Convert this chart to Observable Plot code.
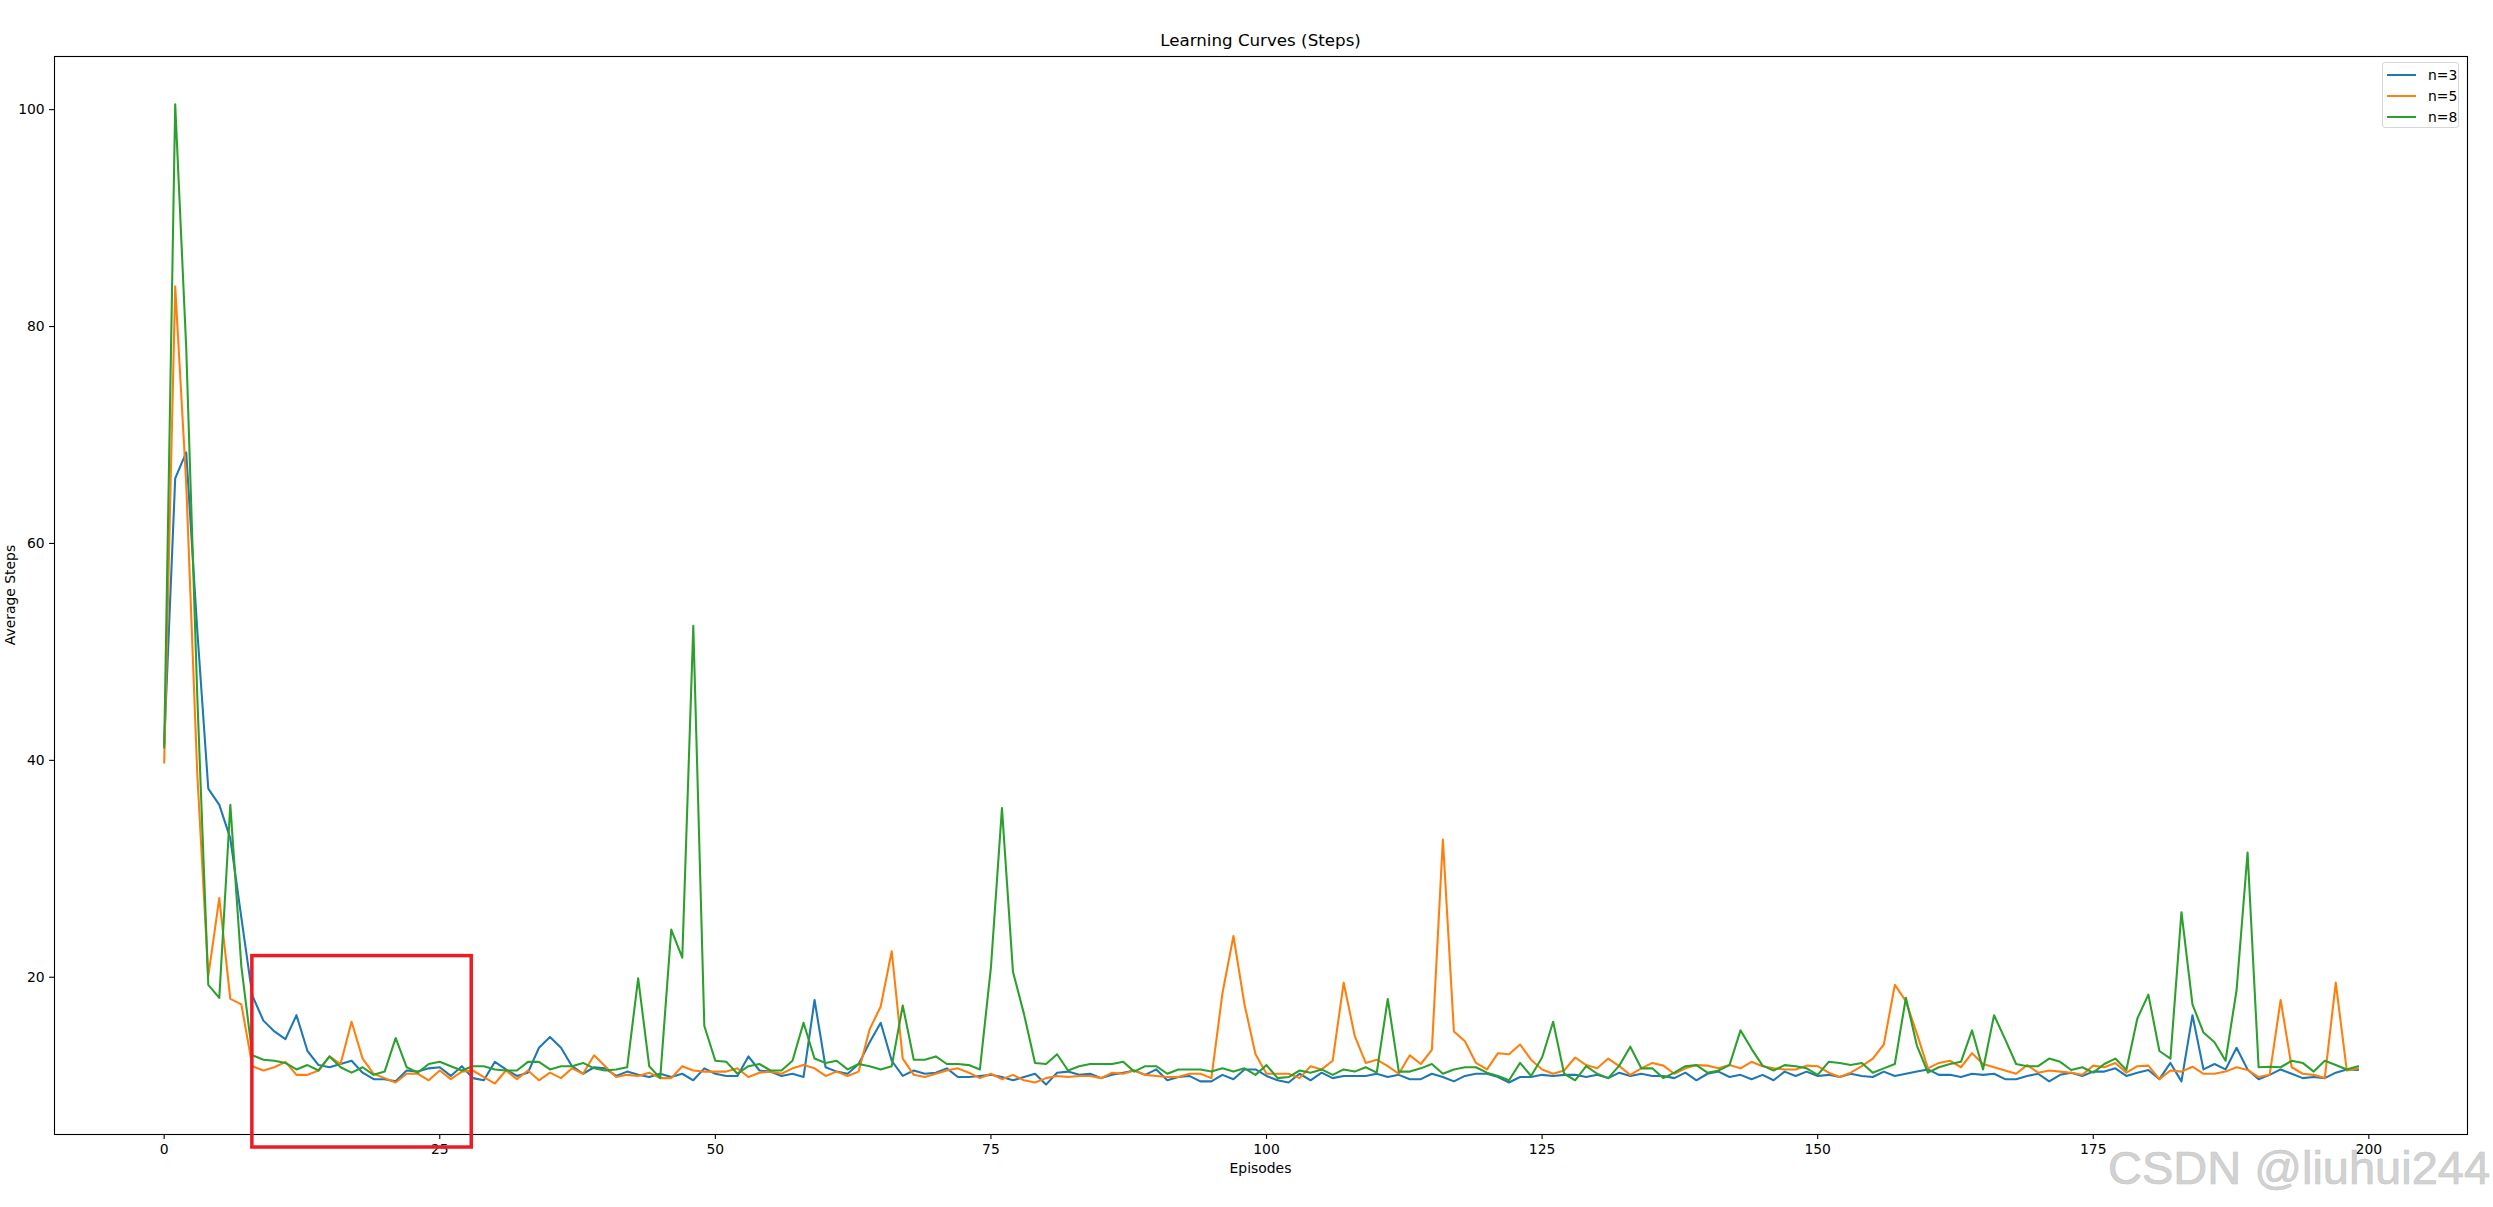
<!DOCTYPE html>
<html>
<head>
<meta charset="utf-8">
<script src="https://cdn.jsdelivr.net/npm/d3@7"></script>
<script src="https://cdn.jsdelivr.net/npm/@observablehq/plot@0.6"></script>
<style>
  html, body { margin: 0; padding: 0; background: #ffffff; }
  #wrap { position: relative; width: 2493px; height: 1207px; overflow: hidden; font-family: "DejaVu Sans", sans-serif; color: #000; }
  #wrap svg { position: absolute; left: 0; top: 0; }
  .title { position: absolute; left: 54px; width: 2413px; top: 30px; text-align: center; font-size: 16.7px; line-height: 20px; }
  .xlabel { position: absolute; left: 54px; width: 2413px; top: 1160px; text-align: center; font-size: 13.9px; line-height: 17px; }
  .ylabel { position: absolute; left: 9.5px; top: 595px; font-size: 13.9px; line-height: 17px; white-space: nowrap; transform: translate(-50%, -50%) rotate(-90deg); }
  .legend { position: absolute; left: 2382px; top: 62px; width: 77px; height: 66px; border: 1px solid #d6d6d6; border-radius: 3px; background: rgba(255,255,255,0.8); box-sizing: border-box; }
  .legend .item { position: absolute; left: 4px; height: 17px; font-size: 13.9px; line-height: 17px; white-space: nowrap; }
  .legend .sw { position: absolute; left: 0; top: 7px; width: 29px; height: 2.1px; }
  .legend .lab { position: absolute; left: 41px; top: 0; }
  .watermark { position: absolute; left: 2108px; top: 1153px; font-family: "Liberation Sans", Arial, sans-serif; font-size: 47px; line-height: 30px; height: 30px; color: #d2d2d2; white-space: nowrap; -webkit-text-stroke: 0.6px #c4c4c4; }
</style>
</head>
<body>
<div id="wrap"></div>
<script>
// ---- data ----
const seriesNames = ["n=3", "n=5", "n=8"];
const seriesColors = ["#1f77b4", "#ff7f0e", "#2ca02c"];
const xTicks = [0, 25, 50, 75, 100, 125, 150, 175, 200];
const yTicks = [20, 40, 60, 80, 100];

const stepsN3 = [
  41.5, 66.0, 68.4, 52.0, 37.4, 35.9, 32.8, 25.5, 18.3, 16.0,
  15.0, 14.3, 16.5, 13.2, 11.9, 11.7, 12.0, 12.3, 11.2, 10.6,
  10.6, 10.4, 11.4, 11.3, 11.6, 11.7, 10.9, 11.8, 10.7, 10.5,
  12.2, 11.5, 10.9, 11.2, 13.5, 14.5, 13.5, 11.8, 11.1, 11.7,
  11.6, 10.9, 11.3, 11.0, 10.8, 11.1, 10.8, 11.1, 10.5, 11.6,
  11.1, 10.9, 10.9, 12.7, 11.4, 11.3, 10.9, 11.1, 10.8, 17.9,
  11.7, 11.3, 11.1, 12.0, 14.0, 15.8, 12.3, 10.9, 11.4, 11.1,
  11.2, 11.6, 10.8, 10.8, 10.9, 11.0, 10.8, 10.5, 10.8, 11.1,
  10.1, 11.2, 11.3, 11.0, 11.1, 10.7, 11.0, 11.2, 11.4, 11.0,
  11.5, 10.5, 10.8, 10.9, 10.4, 10.4, 11.0, 10.6, 11.5, 11.5,
  10.9, 10.5, 10.3, 11.1, 10.5, 11.2, 10.7, 10.9, 10.9, 10.9,
  11.1, 10.8, 11.0, 10.6, 10.6, 11.1, 10.8, 10.4, 10.9, 11.1,
  11.1, 10.8, 10.3, 10.8, 10.8, 11.0, 10.9, 11.0, 11.0, 10.8,
  11.0, 10.7, 11.2, 10.9, 11.1, 10.9, 10.9, 10.7, 11.2, 10.5,
  11.1, 11.3, 10.8, 11.0, 10.6, 11.0, 10.5, 11.3, 10.9, 11.3,
  10.9, 11.0, 10.8, 11.1, 10.9, 10.8, 11.3, 10.9, 11.1, 11.3,
  11.5, 11.0, 11.0, 10.8, 11.1, 11.0, 11.1, 10.6, 10.6, 10.9,
  11.1, 10.4, 11.0, 11.2, 10.9, 11.3, 11.3, 11.6, 10.9, 11.2,
  11.45, 10.6, 12.1, 10.4, 16.5, 11.5, 12.0, 11.5, 13.5, 11.5,
  10.6, 11.0, 11.5, 11.1, 10.7, 10.8, 10.7, 11.2, 11.5, 11.45
];

const stepsN5 = [
  39.8, 83.7, 65.5, 38.8, 20.1, 27.3, 18.0, 17.5, 11.8, 11.4,
  11.7, 12.2, 11.0, 11.0, 11.4, 12.7, 12.0, 15.9, 12.5, 11.1,
  10.7, 10.3, 11.1, 11.1, 10.5, 11.4, 10.6, 11.3, 11.4, 10.8,
  10.2, 11.4, 10.6, 11.4, 10.5, 11.2, 10.7, 11.6, 11.1, 12.8,
  11.8, 10.8, 11.0, 10.9, 11.2, 10.7, 10.7, 11.8, 11.4, 11.3,
  11.3, 11.3, 11.6, 10.8, 11.2, 11.3, 11.1, 11.6, 11.9, 11.6,
  10.9, 11.3, 10.9, 11.3, 15.2, 17.3, 22.4, 12.5, 11.0, 10.8,
  11.1, 11.4, 11.6, 11.2, 10.7, 11.1, 10.6, 11.0, 10.5, 10.3,
  10.7, 10.9, 10.8, 10.9, 10.9, 10.7, 11.2, 11.1, 11.4, 11.0,
  10.9, 10.8, 10.8, 11.1, 11.1, 10.7, 18.5, 23.8, 17.5, 12.9,
  11.1, 11.1, 11.1, 10.7, 11.8, 11.5, 12.3, 19.5, 14.6, 12.1,
  12.4, 11.8, 11.1, 12.8, 12.0, 13.3, 32.7, 15.0, 14.1, 12.1,
  11.5, 13.0, 12.9, 13.8, 12.4, 11.5, 11.1, 11.4, 12.6, 11.9,
  11.6, 12.5, 11.8, 11.0, 11.6, 12.1, 11.85, 11.1, 11.6, 11.9,
  11.85, 11.6, 11.9, 11.6, 12.2, 11.8, 11.6, 11.5, 11.5, 11.85,
  11.8, 11.2, 10.8, 11.2, 11.8, 12.5, 13.8, 19.3, 17.8, 14.8,
  11.6, 12.1, 12.3, 11.7, 13.0, 12.0, 11.7, 11.4, 11.1, 11.9,
  11.2, 11.4, 11.3, 11.2, 11.0, 11.85, 11.7, 12.1, 11.2, 11.8,
  11.85, 10.6, 11.4, 11.3, 11.75, 11.1, 11.1, 11.3, 11.7, 11.45,
  10.8, 11.0, 17.9, 11.7, 11.1, 11.0, 10.7, 19.5, 11.4, 11.6
];

const stepsN8 = [
  41.2, 100.5, 78.0, 46.0, 19.3, 18.1, 35.9, 21.0, 12.8, 12.4,
  12.3, 12.1, 11.5, 11.9, 11.4, 12.7, 11.7, 11.2, 11.7, 11.0,
  11.3, 14.4, 11.7, 11.2, 12.0, 12.2, 11.8, 11.4, 11.8, 11.8,
  11.5, 11.4, 11.4, 12.2, 12.2, 11.5, 11.8, 11.8, 12.1, 11.6,
  11.4, 11.5, 11.7, 19.9, 11.8, 10.7, 24.4, 21.8, 52.4, 15.5,
  12.3, 12.2, 11.1, 11.8, 12.0, 11.4, 11.4, 12.3, 15.8, 12.5,
  12.1, 12.3, 11.5, 12.0, 11.8, 11.5, 11.8, 17.4, 12.4, 12.4,
  12.7, 12.0, 12.0, 11.9, 11.5, 20.9, 35.6, 20.5, 16.6, 12.1,
  12.0, 12.9, 11.4, 11.8, 12.0, 12.0, 12.0, 12.2, 11.3, 11.8,
  11.8, 11.1, 11.5, 11.5, 11.5, 11.3, 11.6, 11.3, 11.6, 11.0,
  11.9, 10.7, 10.8, 11.4, 11.2, 11.5, 11.0, 11.5, 11.3, 11.7,
  11.2, 18.0, 11.3, 11.3, 11.6, 12.0, 11.1, 11.5, 11.7, 11.7,
  11.2, 10.9, 10.5, 12.1, 10.9, 12.6, 15.9, 11.1, 10.5, 11.8,
  11.1, 10.7, 11.85, 13.6, 11.6, 11.6, 10.7, 11.2, 11.8, 11.9,
  11.2, 11.4, 11.9, 15.1, 13.4, 11.85, 11.4, 11.9, 11.8, 11.6,
  11.0, 12.2, 12.1, 11.9, 12.1, 11.2, 11.6, 12.0, 18.1, 13.7,
  11.2, 11.7, 12.0, 12.2, 15.1, 11.5, 16.5, 14.3, 12.0, 11.8,
  11.8, 12.5, 12.2, 11.45, 11.7, 11.2, 12.0, 12.5, 11.45, 16.2,
  18.4, 13.2, 12.5, 26.0, 17.5, 14.9, 14.0, 12.3, 18.8, 31.5,
  11.7, 11.75, 11.7, 12.3, 12.1, 11.3, 12.3, 11.9, 11.5, 11.8
];

// red highlight box drawn over the chart (data coordinates)
const highlightBox = [{x1: 8.0, x2: 27.9, y1: 4.3, y2: 21.95}];

// ---- build ----
const allSeries = [stepsN3, stepsN5, stepsN8];
const tables = allSeries.map((vals, k) => vals.map((v, i) => ({episode: i, steps: v, series: seriesNames[k]})));

const lineMarks = tables.map((t, k) =>
  Plot.line(t, {x: "episode", y: "steps", stroke: seriesColors[k], strokeWidth: 2.08, strokeLinejoin: "round", strokeLinecap: "square"})
);

const chart = Plot.plot({
  width: 2493,
  height: 1207,
  marginLeft: 54,
  marginRight: 26,
  marginTop: 56,
  marginBottom: 73,
  style: {fontFamily: "DejaVu Sans, sans-serif", fontSize: "13.9px", background: "transparent", color: "#000", overflow: "visible"},
  x: {domain: [-9.95, 208.95], label: null},
  y: {domain: [5.5, 104.9], label: null},
  marks: [
    ...lineMarks,
    Plot.frame({stroke: "#000", strokeWidth: 1.1}),
    Plot.axisX({ticks: xTicks, tickSize: 4.9, tickPadding: 4.4, tickFormat: d => String(d), label: null, stroke: "#000", strokeWidth: 1.1, fill: "#000"}),
    Plot.axisY({ticks: yTicks, tickSize: 4.9, tickPadding: 4.9, tickFormat: d => String(d), label: null, stroke: "#000", strokeWidth: 1.1, fill: "#000"}),
    Plot.rect(highlightBox, {x1: "x1", x2: "x2", y1: "y1", y2: "y2", fill: "none", stroke: "#ed1c24", strokeWidth: 3.5})
  ]
});

const wrap = document.getElementById("wrap");
wrap.appendChild(chart);

const title = document.createElement("div");
title.className = "title";
title.textContent = "Learning Curves (Steps)";
wrap.appendChild(title);

const xl = document.createElement("div");
xl.className = "xlabel";
xl.textContent = "Episodes";
wrap.appendChild(xl);

const yl = document.createElement("div");
yl.className = "ylabel";
yl.textContent = "Average Steps";
wrap.appendChild(yl);

const legend = document.createElement("div");
legend.className = "legend";
seriesNames.forEach((name, k) => {
  const item = document.createElement("div");
  item.className = "item";
  item.style.top = (4 + k * 21) + "px";
  const sw = document.createElement("div");
  sw.className = "sw";
  sw.style.background = seriesColors[k];
  const lab = document.createElement("div");
  lab.className = "lab";
  lab.textContent = name;
  item.appendChild(sw);
  item.appendChild(lab);
  legend.appendChild(item);
});
wrap.appendChild(legend);

const wm = document.createElement("div");
wm.className = "watermark";
wm.textContent = "CSDN @liuhui244";
wrap.appendChild(wm);
</script>
</body>
</html>
